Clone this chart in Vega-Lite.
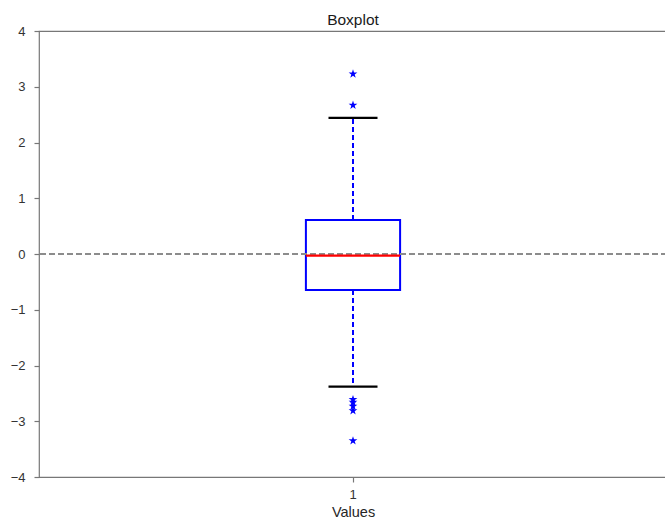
{
  "$schema": "https://vega.github.io/schema/vega-lite/v6.json",
  "autosize": "none",
  "padding": {"left": 39, "top": 31, "right": 0, "bottom": 45},
  "width": 628,
  "height": 446,
  "title": {"text": "Boxplot", "fontSize": 15.5, "font": "Liberation Sans", "fontWeight": "normal", "color": "#1a1a1a", "anchor": "middle", "frame": "group", "offset": -18, "baseline": "bottom"},
  "config": {
    "view": {"stroke": "#777777", "strokeWidth": 1.2},
    "axis": {"labelFont": "Liberation Sans", "titleFont": "Liberation Sans", "labelColor": "#333333", "titleColor": "#262626", "tickColor": "#777777", "tickWidth": 1.2, "tickSize": 5, "domain": false, "grid": false, "labelFontSize": 13, "titleFontSize": 14.5, "titleFontWeight": "normal"}
  },
  "layer": [
    {
      "data": {"values": [{"group": "1", "q1": -0.646, "q3": 0.61}]},
      "mark": {"type": "bar", "width": {"band": 0.15}, "fill": "#0000ff", "fillOpacity": 0, "stroke": "#0000ff", "strokeWidth": 2},
      "encoding": {
        "x": {"field": "group", "type": "nominal", "scale": {"type": "band", "paddingInner": 0, "paddingOuter": 0}, "axis": {"title": "Values", "labelAngle": 0, "bandPosition": 0.5, "labelPadding": 6, "titlePadding": 4}},
        "y": {"field": "q1", "type": "quantitative", "scale": {"domain": [-4, 4], "nice": false, "zero": false}, "axis": {"title": null, "values": [-4, -3, -2, -1, 0, 1, 2, 3, 4], "format": "d", "labelPadding": 9}},
        "y2": {"field": "q3"}
      }
    },
    {
      "data": {"values": [{"val": 0}]},
      "mark": {"type": "rule", "color": "#8c8c8c", "strokeWidth": 2, "strokeDash": [6, 3]},
      "encoding": {"y": {"field": "val", "type": "quantitative"}}
    },
    {
      "data": {"values": [{"group": "1", "from": 0.61, "to": 2.44}, {"group": "1", "from": -0.646, "to": -2.38}]},
      "mark": {"type": "rule", "color": "#0000ff", "strokeWidth": 2, "strokeDash": [5, 3]},
      "encoding": {
        "x": {"field": "group", "type": "nominal"},
        "y": {"field": "from", "type": "quantitative"},
        "y2": {"field": "to"}
      }
    },
    {
      "data": {"values": [{"group": "1", "median": -0.03}]},
      "mark": {"type": "tick", "color": "#ff0000", "size": 94, "thickness": 2.2, "opacity": 1},
      "encoding": {
        "x": {"field": "group", "type": "nominal"},
        "y": {"field": "median", "type": "quantitative"}
      }
    },
    {
      "data": {"values": [{"group": "1", "cap": 2.44}, {"group": "1", "cap": -2.38}]},
      "mark": {"type": "tick", "color": "#000000", "size": 49, "thickness": 2.2, "opacity": 1},
      "encoding": {
        "x": {"field": "group", "type": "nominal"},
        "y": {"field": "cap", "type": "quantitative"}
      }
    },
    {
      "data": {"values": [{"group": "1", "value": 3.23}, {"group": "1", "value": 2.67}, {"group": "1", "value": -2.61}, {"group": "1", "value": -2.66}, {"group": "1", "value": -2.73}, {"group": "1", "value": -2.81}, {"group": "1", "value": -3.35}]},
      "mark": {"type": "point", "shape": "M0,-1L0.225,-0.309L0.951,-0.309L0.363,0.118L0.588,0.809L0,0.382L-0.588,0.809L-0.363,0.118L-0.951,-0.309L-0.225,-0.309Z", "filled": true, "color": "#0000ff", "size": 85, "opacity": 1},
      "encoding": {
        "x": {"field": "group", "type": "nominal"},
        "y": {"field": "value", "type": "quantitative"}
      }
    }
  ]
}
